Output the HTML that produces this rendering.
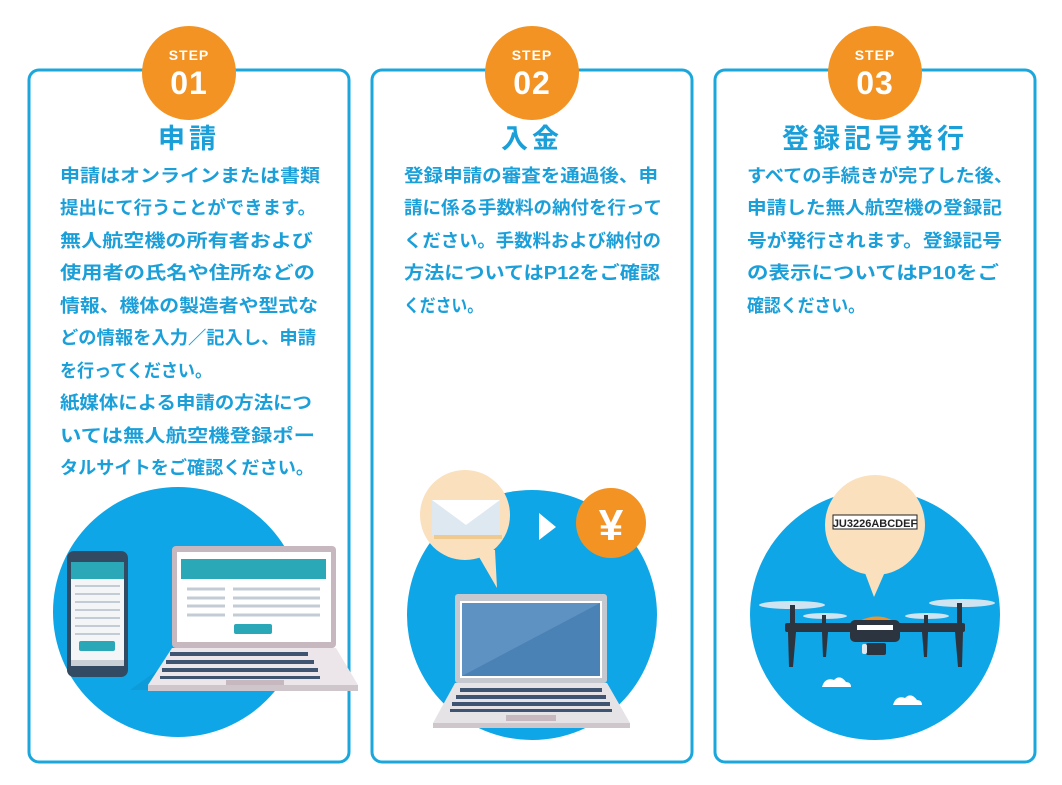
<!DOCTYPE html>
<html><head><meta charset="utf-8"><style>
body{margin:0;background:#fff;}
svg{display:block}
text{font-family:"Liberation Sans","Noto Sans CJK JP",sans-serif;font-weight:bold}
.b{fill:#1b9fd9;font-size:18px}
.t{fill:#1b9fd9;font-size:27px;letter-spacing:4px}
</style></head><body>
<svg width="1062" height="785" viewBox="0 0 1062 785">
<g fill="none" stroke="#1ba7db" stroke-width="3">
<rect x="29" y="70" width="320" height="692" rx="10"/>
<rect x="372" y="70" width="320" height="692" rx="10"/>
<rect x="715" y="70" width="320" height="692" rx="10"/>
</g>
<g>
<circle cx="189" cy="73" r="47" fill="#f39323"/>
<circle cx="532" cy="73" r="47" fill="#f39323"/>
<circle cx="875" cy="73" r="47" fill="#f39323"/>
<g fill="#fff" text-anchor="middle">
<text x="189" y="60" font-size="14" letter-spacing="1">STEP</text>
<text x="189" y="94" font-size="32" letter-spacing="1">01</text>
<text x="532" y="60" font-size="14" letter-spacing="1">STEP</text>
<text x="532" y="94" font-size="32" letter-spacing="1">02</text>
<text x="875" y="60" font-size="14" letter-spacing="1">STEP</text>
<text x="875" y="94" font-size="32" letter-spacing="1">03</text>
</g>
</g>
<text class="t" x="189" y="148" text-anchor="middle">申請</text>
<text class="t" x="532" y="148" text-anchor="middle">入金</text>
<text class="t" x="875" y="148" text-anchor="middle">登録記号発行</text>
<g class="b" lengthAdjust="spacingAndGlyphs">
<text x="60" y="182" textLength="260" lengthAdjust="spacingAndGlyphs">申請はオンラインまたは書類</text>
<text x="60" y="214" textLength="256" lengthAdjust="spacingAndGlyphs">提出にて行うことができます。</text>
<text x="60" y="247" textLength="253" lengthAdjust="spacingAndGlyphs">無人航空機の所有者および</text>
<text x="60" y="279" textLength="255" lengthAdjust="spacingAndGlyphs">使用者の氏名や住所などの</text>
<text x="60" y="312" textLength="258" lengthAdjust="spacingAndGlyphs">情報、機体の製造者や型式な</text>
<text x="60" y="344" textLength="256" lengthAdjust="spacingAndGlyphs">どの情報を入力／記入し、申請</text>
<text x="60" y="377" textLength="152" lengthAdjust="spacingAndGlyphs">を行ってください。</text>
<text x="60" y="409" textLength="252" lengthAdjust="spacingAndGlyphs">紙媒体による申請の方法につ</text>
<text x="60" y="442" textLength="255" lengthAdjust="spacingAndGlyphs">いては無人航空機登録ポー</text>
<text x="60" y="474" textLength="254" lengthAdjust="spacingAndGlyphs">タルサイトをご確認ください。</text>

<text x="404" y="182" textLength="254" lengthAdjust="spacingAndGlyphs">登録申請の審査を通過後、申</text>
<text x="404" y="214" textLength="258" lengthAdjust="spacingAndGlyphs">請に係る手数料の納付を行って</text>
<text x="404" y="247" textLength="257" lengthAdjust="spacingAndGlyphs">ください。手数料および納付の</text>
<text x="404" y="279" textLength="256" lengthAdjust="spacingAndGlyphs">方法についてはP12をご確認</text>
<text x="404" y="312" textLength="79" lengthAdjust="spacingAndGlyphs">ください。</text>

<text x="747" y="182" textLength="266" lengthAdjust="spacingAndGlyphs">すべての手続きが完了した後、</text>
<text x="747" y="214" textLength="255" lengthAdjust="spacingAndGlyphs">申請した無人航空機の登録記</text>
<text x="747" y="247" textLength="255" lengthAdjust="spacingAndGlyphs">号が発行されます。登録記号</text>
<text x="747" y="279" textLength="252" lengthAdjust="spacingAndGlyphs">の表示についてはP10をご</text>
<text x="747" y="312" textLength="118" lengthAdjust="spacingAndGlyphs">確認ください。</text>
</g>

<circle cx="178" cy="612" r="125" fill="#0ea6e6"/>
<polygon points="130,690 200,640 250,690" fill="#0b8fcc" opacity="0.5"/>
<rect x="67" y="551" width="61" height="126" rx="7" fill="#334a63"/>
<rect x="71" y="562" width="53" height="100" fill="#f3f5f6"/>
<rect x="71" y="562" width="53" height="17" fill="#2aa8b8"/>
<g stroke="#c3ccd4" stroke-width="2">
<line x1="75" y1="586" x2="120" y2="586"/><line x1="75" y1="594" x2="120" y2="594"/>
<line x1="75" y1="602" x2="120" y2="602"/><line x1="75" y1="610" x2="120" y2="610"/>
<line x1="75" y1="618" x2="120" y2="618"/><line x1="75" y1="626" x2="120" y2="626"/>
<line x1="75" y1="634" x2="120" y2="634"/></g>
<rect x="79" y="641" width="36" height="10" rx="2" fill="#2aa8b8"/>
<rect x="71" y="660" width="53" height="6" fill="#c9d0d6"/>
<rect x="172" y="546" width="164" height="102" rx="4" fill="#c7b7bf"/>
<rect x="177" y="552" width="154" height="90" fill="#fff"/>
<rect x="181" y="559" width="145" height="20" fill="#2aa8b8"/>
<g stroke="#c3ccd4" stroke-width="3">
<line x1="187" y1="589" x2="225" y2="589"/><line x1="233" y1="589" x2="320" y2="589"/>
<line x1="187" y1="598" x2="225" y2="598"/><line x1="233" y1="598" x2="320" y2="598"/>
<line x1="187" y1="606" x2="225" y2="606"/><line x1="233" y1="606" x2="320" y2="606"/>
<line x1="187" y1="615" x2="225" y2="615"/><line x1="233" y1="615" x2="320" y2="615"/>
</g>
<rect x="234" y="624" width="38" height="10" rx="2" fill="#2aa8b8"/>
<polygon points="172,648 336,648 358,685 148,685" fill="#ece6ea"/>
<g fill="#3e5470"><rect x="170" y="652" width="138" height="4"/><rect x="166" y="660" width="148" height="4"/><rect x="162" y="668" width="156" height="4"/><rect x="160" y="676" width="160" height="3"/></g>
<rect x="226" y="680" width="58" height="6" fill="#c7b7bf"/>
<rect x="148" y="685" width="210" height="6" fill="#cfc6cb"/>

<circle cx="532" cy="615" r="125" fill="#0ea6e6"/>
<circle cx="465" cy="515" r="45" fill="#fae0bd"/>
<polygon points="475,550 495,550 497,588" fill="#fae0bd"/>
<rect x="432" y="500" width="68" height="36" fill="#dde8f0"/>
<rect x="434" y="535" width="68" height="4" fill="#f0c98f"/>
<polygon points="432,500 500,500 466,525" fill="#fff"/>
<polygon points="539,513 539,540 556,527" fill="#fff"/>
<circle cx="611" cy="523" r="35" fill="#f39323"/>
<text x="611" y="540" fill="#fff" font-size="44" text-anchor="middle">¥</text>
<rect x="455" y="594" width="152" height="89" rx="3" fill="#c5c9cf"/>
<rect x="460" y="601" width="142" height="77" fill="#fff"/>
<rect x="462" y="603" width="138" height="73" fill="#4a82b5"/>
<polygon points="462,676 600,603 462,603" fill="#5d92c2"/>
<polygon points="455,683 607,683 630,723 433,723" fill="#e6e3e6"/>
<g fill="#3e5470"><rect x="460" y="688" width="142" height="4"/><rect x="456" y="695" width="150" height="4"/><rect x="452" y="702" width="158" height="4"/><rect x="450" y="709" width="162" height="3"/></g>
<rect x="506" y="715" width="50" height="6" fill="#c7b7bf"/>
<rect x="433" y="723" width="197" height="5" fill="#cfc6cb"/>

<circle cx="875" cy="615" r="125" fill="#0ea6e6"/>
<circle cx="875" cy="525" r="50" fill="#fae0bd"/>
<polygon points="862,565 888,565 874,597" fill="#fae0bd"/>
<rect x="833" y="515" width="84" height="14" fill="#fff" stroke="#222" stroke-width="1"/>
<text x="875" y="527" font-size="11" text-anchor="middle" fill="#222">JU3226ABCDEF</text>
<g fill="#cfe3f0"><ellipse cx="792" cy="605" rx="33" ry="4"/><ellipse cx="962" cy="603" rx="33" ry="4"/><ellipse cx="825" cy="616" rx="22" ry="3"/><ellipse cx="927" cy="616" rx="22" ry="3"/></g>
<path d="M853,625 Q877,608 900,625 Z" fill="#f0912a"/>
<rect x="785" y="623" width="180" height="9" rx="2" fill="#2c3440"/>
<rect x="850" y="620" width="50" height="22" rx="5" fill="#2c3440"/>
<rect x="857" y="625" width="36" height="5" fill="#fff"/>
<g fill="#2c3440">
<rect x="790" y="605" width="5" height="20"/><rect x="957" y="603" width="5" height="22"/>
<rect x="822" y="615" width="4" height="10"/><rect x="924" y="615" width="4" height="10"/>
<polygon points="788,632 796,632 793,667 789,667"/><polygon points="955,632 963,632 962,667 958,667"/>
<polygon points="822,632 828,632 826,657 823,657"/><polygon points="922,632 928,632 927,657 924,657"/>
<rect x="866" y="643" width="20" height="12" rx="2"/>
</g>
<rect x="862" y="644" width="5" height="10" rx="2" fill="#dfe8ee"/>
<g fill="#fff"><path d="M822,687 q3,-10 12,-7 q6,-6 12,2 q5,0 5,5 z"/><path d="M893,705 q3,-10 12,-7 q6,-6 12,2 q5,0 5,5 z"/></g>
</svg>
</body></html>
